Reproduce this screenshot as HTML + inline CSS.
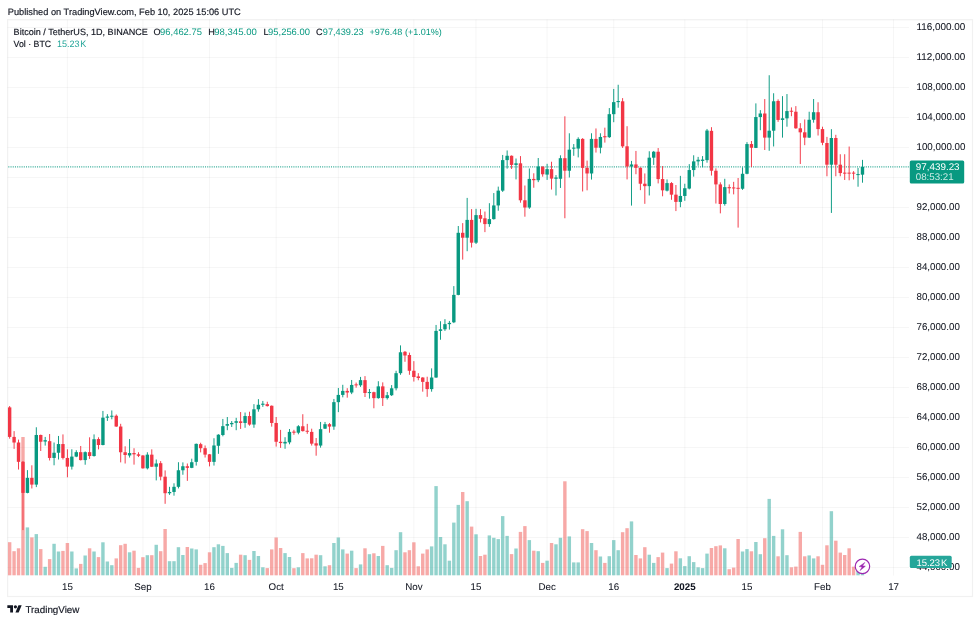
<!DOCTYPE html>
<html><head><meta charset="utf-8"><title>BTCUSDT</title>
<style>
html,body{margin:0;padding:0;background:#fff;}
body{width:980px;height:622px;overflow:hidden;position:relative;font-family:"Liberation Sans",sans-serif;}
svg{position:absolute;left:0;top:0;will-change:transform;transform:translateZ(0);}
text{font-family:"Liberation Sans",sans-serif;}
.dk text, text.dk{stroke:#131722;stroke-width:0.16px;}
.ax text{stroke:#131722;stroke-width:0.06px;}
</style></head><body>
<svg width="980" height="622" viewBox="0 0 980 622" text-rendering="geometricPrecision">
<rect x="0" y="0" width="980" height="622" fill="#ffffff"/>
<!-- frame -->
<rect x="7.6" y="19.7" width="964.9" height="576.8" fill="none" stroke="rgba(40,40,50,0.065)" stroke-width="1.2"/>
<rect x="7.5" y="27.00" width="901.5" height="1" fill="rgba(40,40,50,0.042)"/>
<rect x="7.5" y="57.00" width="901.5" height="1" fill="rgba(40,40,50,0.042)"/>
<rect x="7.5" y="87.00" width="901.5" height="1" fill="rgba(40,40,50,0.042)"/>
<rect x="7.5" y="117.00" width="901.5" height="1" fill="rgba(40,40,50,0.042)"/>
<rect x="7.5" y="147.00" width="901.5" height="1" fill="rgba(40,40,50,0.042)"/>
<rect x="7.5" y="177.00" width="901.5" height="1" fill="rgba(40,40,50,0.042)"/>
<rect x="7.5" y="207.00" width="901.5" height="1" fill="rgba(40,40,50,0.042)"/>
<rect x="7.5" y="237.00" width="901.5" height="1" fill="rgba(40,40,50,0.042)"/>
<rect x="7.5" y="267.00" width="901.5" height="1" fill="rgba(40,40,50,0.042)"/>
<rect x="7.5" y="297.00" width="901.5" height="1" fill="rgba(40,40,50,0.042)"/>
<rect x="7.5" y="327.00" width="901.5" height="1" fill="rgba(40,40,50,0.042)"/>
<rect x="7.5" y="357.00" width="901.5" height="1" fill="rgba(40,40,50,0.042)"/>
<rect x="7.5" y="387.00" width="901.5" height="1" fill="rgba(40,40,50,0.042)"/>
<rect x="7.5" y="417.00" width="901.5" height="1" fill="rgba(40,40,50,0.042)"/>
<rect x="7.5" y="447.00" width="901.5" height="1" fill="rgba(40,40,50,0.042)"/>
<rect x="7.5" y="477.00" width="901.5" height="1" fill="rgba(40,40,50,0.042)"/>
<rect x="7.5" y="507.00" width="901.5" height="1" fill="rgba(40,40,50,0.042)"/>
<rect x="7.5" y="537.00" width="901.5" height="1" fill="rgba(40,40,50,0.042)"/>
<rect x="7.5" y="567.00" width="901.5" height="1" fill="rgba(40,40,50,0.042)"/>
<rect x="66.89" y="19.5" width="1" height="556" fill="rgba(40,40,50,0.042)"/>
<rect x="142.40" y="19.5" width="1" height="556" fill="rgba(40,40,50,0.042)"/>
<rect x="209.03" y="19.5" width="1" height="556" fill="rgba(40,40,50,0.042)"/>
<rect x="275.66" y="19.5" width="1" height="556" fill="rgba(40,40,50,0.042)"/>
<rect x="337.84" y="19.5" width="1" height="556" fill="rgba(40,40,50,0.042)"/>
<rect x="413.35" y="19.5" width="1" height="556" fill="rgba(40,40,50,0.042)"/>
<rect x="475.54" y="19.5" width="1" height="556" fill="rgba(40,40,50,0.042)"/>
<rect x="546.61" y="19.5" width="1" height="556" fill="rgba(40,40,50,0.042)"/>
<rect x="613.23" y="19.5" width="1" height="556" fill="rgba(40,40,50,0.042)"/>
<rect x="684.30" y="19.5" width="1" height="556" fill="rgba(40,40,50,0.042)"/>
<rect x="746.49" y="19.5" width="1" height="556" fill="rgba(40,40,50,0.042)"/>
<rect x="822.00" y="19.5" width="1" height="556" fill="rgba(40,40,50,0.042)"/>
<rect x="893.07" y="19.5" width="1" height="556" fill="rgba(40,40,50,0.042)"/>
<rect x="7.95" y="542.20" width="3.4" height="33.10" fill="rgba(239,83,80,0.5)"/>
<rect x="12.39" y="551.20" width="3.4" height="24.10" fill="rgba(239,83,80,0.5)"/>
<rect x="16.83" y="548.30" width="3.4" height="27.00" fill="rgba(239,83,80,0.5)"/>
<rect x="21.28" y="437.00" width="3.4" height="138.30" fill="rgba(239,83,80,0.5)"/>
<rect x="25.72" y="527.40" width="3.4" height="47.90" fill="rgba(38,166,154,0.5)"/>
<rect x="30.16" y="537.40" width="3.4" height="37.90" fill="rgba(239,83,80,0.5)"/>
<rect x="34.60" y="534.10" width="3.4" height="41.20" fill="rgba(38,166,154,0.5)"/>
<rect x="39.04" y="549.10" width="3.4" height="26.20" fill="rgba(239,83,80,0.5)"/>
<rect x="43.48" y="566.80" width="3.4" height="8.50" fill="rgba(38,166,154,0.5)"/>
<rect x="47.93" y="559.10" width="3.4" height="16.20" fill="rgba(239,83,80,0.5)"/>
<rect x="52.37" y="543.80" width="3.4" height="31.50" fill="rgba(38,166,154,0.5)"/>
<rect x="56.81" y="551.50" width="3.4" height="23.80" fill="rgba(38,166,154,0.5)"/>
<rect x="61.25" y="550.90" width="3.4" height="24.40" fill="rgba(239,83,80,0.5)"/>
<rect x="65.69" y="543.00" width="3.4" height="32.30" fill="rgba(239,83,80,0.5)"/>
<rect x="70.14" y="551.50" width="3.4" height="23.80" fill="rgba(38,166,154,0.5)"/>
<rect x="74.58" y="568.40" width="3.4" height="6.90" fill="rgba(38,166,154,0.5)"/>
<rect x="79.02" y="563.90" width="3.4" height="11.40" fill="rgba(239,83,80,0.5)"/>
<rect x="83.46" y="555.50" width="3.4" height="19.80" fill="rgba(38,166,154,0.5)"/>
<rect x="87.90" y="548.30" width="3.4" height="27.00" fill="rgba(239,83,80,0.5)"/>
<rect x="92.34" y="551.50" width="3.4" height="23.80" fill="rgba(38,166,154,0.5)"/>
<rect x="96.79" y="557.10" width="3.4" height="18.20" fill="rgba(239,83,80,0.5)"/>
<rect x="101.23" y="542.30" width="3.4" height="33.00" fill="rgba(38,166,154,0.5)"/>
<rect x="105.67" y="561.50" width="3.4" height="13.80" fill="rgba(38,166,154,0.5)"/>
<rect x="110.11" y="565.20" width="3.4" height="10.10" fill="rgba(38,166,154,0.5)"/>
<rect x="114.55" y="558.40" width="3.4" height="16.90" fill="rgba(239,83,80,0.5)"/>
<rect x="118.99" y="545.20" width="3.4" height="30.10" fill="rgba(239,83,80,0.5)"/>
<rect x="123.44" y="543.80" width="3.4" height="31.50" fill="rgba(239,83,80,0.5)"/>
<rect x="127.88" y="552.30" width="3.4" height="23.00" fill="rgba(38,166,154,0.5)"/>
<rect x="132.32" y="550.70" width="3.4" height="24.60" fill="rgba(239,83,80,0.5)"/>
<rect x="136.76" y="567.90" width="3.4" height="7.40" fill="rgba(239,83,80,0.5)"/>
<rect x="141.20" y="557.20" width="3.4" height="18.10" fill="rgba(239,83,80,0.5)"/>
<rect x="145.65" y="555.20" width="3.4" height="20.10" fill="rgba(38,166,154,0.5)"/>
<rect x="150.09" y="555.20" width="3.4" height="20.10" fill="rgba(239,83,80,0.5)"/>
<rect x="154.53" y="544.80" width="3.4" height="30.50" fill="rgba(38,166,154,0.5)"/>
<rect x="158.97" y="551.20" width="3.4" height="24.10" fill="rgba(239,83,80,0.5)"/>
<rect x="163.41" y="529.00" width="3.4" height="46.30" fill="rgba(239,83,80,0.5)"/>
<rect x="167.85" y="561.20" width="3.4" height="14.10" fill="rgba(38,166,154,0.5)"/>
<rect x="172.30" y="561.20" width="3.4" height="14.10" fill="rgba(38,166,154,0.5)"/>
<rect x="176.74" y="547.20" width="3.4" height="28.10" fill="rgba(38,166,154,0.5)"/>
<rect x="181.18" y="555.00" width="3.4" height="20.30" fill="rgba(38,166,154,0.5)"/>
<rect x="185.62" y="547.00" width="3.4" height="28.30" fill="rgba(239,83,80,0.5)"/>
<rect x="190.06" y="548.50" width="3.4" height="26.80" fill="rgba(38,166,154,0.5)"/>
<rect x="194.51" y="549.40" width="3.4" height="25.90" fill="rgba(38,166,154,0.5)"/>
<rect x="198.95" y="564.80" width="3.4" height="10.50" fill="rgba(239,83,80,0.5)"/>
<rect x="203.39" y="563.10" width="3.4" height="12.20" fill="rgba(239,83,80,0.5)"/>
<rect x="207.83" y="552.30" width="3.4" height="23.00" fill="rgba(239,83,80,0.5)"/>
<rect x="212.27" y="547.20" width="3.4" height="28.10" fill="rgba(38,166,154,0.5)"/>
<rect x="216.71" y="544.30" width="3.4" height="31.00" fill="rgba(38,166,154,0.5)"/>
<rect x="221.16" y="545.90" width="3.4" height="29.40" fill="rgba(38,166,154,0.5)"/>
<rect x="225.60" y="553.10" width="3.4" height="22.20" fill="rgba(38,166,154,0.5)"/>
<rect x="230.04" y="567.90" width="3.4" height="7.40" fill="rgba(38,166,154,0.5)"/>
<rect x="234.48" y="562.90" width="3.4" height="12.40" fill="rgba(38,166,154,0.5)"/>
<rect x="238.92" y="554.70" width="3.4" height="20.60" fill="rgba(239,83,80,0.5)"/>
<rect x="243.37" y="555.20" width="3.4" height="20.10" fill="rgba(38,166,154,0.5)"/>
<rect x="247.81" y="559.90" width="3.4" height="15.40" fill="rgba(239,83,80,0.5)"/>
<rect x="252.25" y="551.00" width="3.4" height="24.30" fill="rgba(38,166,154,0.5)"/>
<rect x="256.69" y="556.00" width="3.4" height="19.30" fill="rgba(38,166,154,0.5)"/>
<rect x="261.13" y="567.30" width="3.4" height="8.00" fill="rgba(38,166,154,0.5)"/>
<rect x="265.57" y="568.10" width="3.4" height="7.20" fill="rgba(239,83,80,0.5)"/>
<rect x="270.02" y="549.40" width="3.4" height="25.90" fill="rgba(239,83,80,0.5)"/>
<rect x="274.46" y="537.50" width="3.4" height="37.80" fill="rgba(239,83,80,0.5)"/>
<rect x="278.90" y="548.00" width="3.4" height="27.30" fill="rgba(239,83,80,0.5)"/>
<rect x="283.34" y="553.10" width="3.4" height="22.20" fill="rgba(38,166,154,0.5)"/>
<rect x="287.78" y="557.00" width="3.4" height="18.30" fill="rgba(38,166,154,0.5)"/>
<rect x="292.23" y="568.20" width="3.4" height="7.10" fill="rgba(239,83,80,0.5)"/>
<rect x="296.67" y="567.30" width="3.4" height="8.00" fill="rgba(38,166,154,0.5)"/>
<rect x="301.11" y="553.10" width="3.4" height="22.20" fill="rgba(239,83,80,0.5)"/>
<rect x="305.55" y="558.40" width="3.4" height="16.90" fill="rgba(239,83,80,0.5)"/>
<rect x="309.99" y="558.30" width="3.4" height="17.00" fill="rgba(239,83,80,0.5)"/>
<rect x="314.43" y="554.70" width="3.4" height="20.60" fill="rgba(239,83,80,0.5)"/>
<rect x="318.88" y="555.20" width="3.4" height="20.10" fill="rgba(38,166,154,0.5)"/>
<rect x="323.32" y="566.30" width="3.4" height="9.00" fill="rgba(38,166,154,0.5)"/>
<rect x="327.76" y="565.20" width="3.4" height="10.10" fill="rgba(239,83,80,0.5)"/>
<rect x="332.20" y="543.00" width="3.4" height="32.30" fill="rgba(38,166,154,0.5)"/>
<rect x="336.64" y="537.50" width="3.4" height="37.80" fill="rgba(38,166,154,0.5)"/>
<rect x="341.08" y="549.40" width="3.4" height="25.90" fill="rgba(38,166,154,0.5)"/>
<rect x="345.53" y="553.60" width="3.4" height="21.70" fill="rgba(239,83,80,0.5)"/>
<rect x="349.97" y="550.70" width="3.4" height="24.60" fill="rgba(38,166,154,0.5)"/>
<rect x="354.41" y="568.10" width="3.4" height="7.20" fill="rgba(239,83,80,0.5)"/>
<rect x="358.85" y="564.40" width="3.4" height="10.90" fill="rgba(38,166,154,0.5)"/>
<rect x="363.29" y="548.30" width="3.4" height="27.00" fill="rgba(239,83,80,0.5)"/>
<rect x="367.74" y="554.20" width="3.4" height="21.10" fill="rgba(38,166,154,0.5)"/>
<rect x="372.18" y="553.30" width="3.4" height="22.00" fill="rgba(239,83,80,0.5)"/>
<rect x="376.62" y="556.00" width="3.4" height="19.30" fill="rgba(38,166,154,0.5)"/>
<rect x="381.06" y="545.90" width="3.4" height="29.40" fill="rgba(239,83,80,0.5)"/>
<rect x="385.50" y="565.20" width="3.4" height="10.10" fill="rgba(38,166,154,0.5)"/>
<rect x="389.94" y="567.90" width="3.4" height="7.40" fill="rgba(38,166,154,0.5)"/>
<rect x="394.39" y="550.20" width="3.4" height="25.10" fill="rgba(38,166,154,0.5)"/>
<rect x="398.83" y="532.20" width="3.4" height="43.10" fill="rgba(38,166,154,0.5)"/>
<rect x="403.27" y="552.30" width="3.4" height="23.00" fill="rgba(239,83,80,0.5)"/>
<rect x="407.71" y="550.20" width="3.4" height="25.10" fill="rgba(239,83,80,0.5)"/>
<rect x="412.15" y="542.30" width="3.4" height="33.00" fill="rgba(239,83,80,0.5)"/>
<rect x="416.60" y="566.30" width="3.4" height="9.00" fill="rgba(239,83,80,0.5)"/>
<rect x="421.04" y="553.60" width="3.4" height="21.70" fill="rgba(239,83,80,0.5)"/>
<rect x="425.48" y="549.40" width="3.4" height="25.90" fill="rgba(239,83,80,0.5)"/>
<rect x="429.92" y="546.40" width="3.4" height="28.90" fill="rgba(38,166,154,0.5)"/>
<rect x="434.36" y="486.10" width="3.4" height="89.20" fill="rgba(38,166,154,0.5)"/>
<rect x="438.80" y="537.00" width="3.4" height="38.30" fill="rgba(38,166,154,0.5)"/>
<rect x="443.25" y="544.30" width="3.4" height="31.00" fill="rgba(38,166,154,0.5)"/>
<rect x="447.69" y="560.70" width="3.4" height="14.60" fill="rgba(38,166,154,0.5)"/>
<rect x="452.13" y="522.60" width="3.4" height="52.70" fill="rgba(38,166,154,0.5)"/>
<rect x="456.57" y="504.90" width="3.4" height="70.40" fill="rgba(38,166,154,0.5)"/>
<rect x="461.01" y="492.00" width="3.4" height="83.30" fill="rgba(239,83,80,0.5)"/>
<rect x="465.46" y="501.20" width="3.4" height="74.10" fill="rgba(38,166,154,0.5)"/>
<rect x="469.90" y="526.60" width="3.4" height="48.70" fill="rgba(239,83,80,0.5)"/>
<rect x="474.34" y="534.30" width="3.4" height="41.00" fill="rgba(38,166,154,0.5)"/>
<rect x="478.78" y="556.00" width="3.4" height="19.30" fill="rgba(239,83,80,0.5)"/>
<rect x="483.22" y="554.70" width="3.4" height="20.60" fill="rgba(239,83,80,0.5)"/>
<rect x="487.66" y="535.40" width="3.4" height="39.90" fill="rgba(38,166,154,0.5)"/>
<rect x="492.11" y="537.80" width="3.4" height="37.50" fill="rgba(38,166,154,0.5)"/>
<rect x="496.55" y="539.10" width="3.4" height="36.20" fill="rgba(38,166,154,0.5)"/>
<rect x="500.99" y="516.10" width="3.4" height="59.20" fill="rgba(38,166,154,0.5)"/>
<rect x="505.43" y="535.90" width="3.4" height="39.40" fill="rgba(38,166,154,0.5)"/>
<rect x="509.87" y="554.10" width="3.4" height="21.20" fill="rgba(239,83,80,0.5)"/>
<rect x="514.32" y="548.50" width="3.4" height="26.80" fill="rgba(38,166,154,0.5)"/>
<rect x="518.76" y="531.90" width="3.4" height="43.40" fill="rgba(239,83,80,0.5)"/>
<rect x="523.20" y="526.10" width="3.4" height="49.20" fill="rgba(239,83,80,0.5)"/>
<rect x="527.64" y="540.10" width="3.4" height="35.20" fill="rgba(38,166,154,0.5)"/>
<rect x="532.08" y="550.70" width="3.4" height="24.60" fill="rgba(239,83,80,0.5)"/>
<rect x="536.52" y="551.20" width="3.4" height="24.10" fill="rgba(38,166,154,0.5)"/>
<rect x="540.97" y="562.90" width="3.4" height="12.40" fill="rgba(239,83,80,0.5)"/>
<rect x="545.41" y="560.70" width="3.4" height="14.60" fill="rgba(38,166,154,0.5)"/>
<rect x="549.85" y="543.00" width="3.4" height="32.30" fill="rgba(239,83,80,0.5)"/>
<rect x="554.29" y="544.30" width="3.4" height="31.00" fill="rgba(38,166,154,0.5)"/>
<rect x="558.73" y="537.80" width="3.4" height="37.50" fill="rgba(38,166,154,0.5)"/>
<rect x="563.17" y="481.30" width="3.4" height="94.00" fill="rgba(239,83,80,0.5)"/>
<rect x="567.62" y="536.40" width="3.4" height="38.90" fill="rgba(38,166,154,0.5)"/>
<rect x="572.06" y="562.40" width="3.4" height="12.90" fill="rgba(38,166,154,0.5)"/>
<rect x="576.50" y="562.40" width="3.4" height="12.90" fill="rgba(38,166,154,0.5)"/>
<rect x="580.94" y="529.20" width="3.4" height="46.10" fill="rgba(239,83,80,0.5)"/>
<rect x="585.38" y="531.10" width="3.4" height="44.20" fill="rgba(239,83,80,0.5)"/>
<rect x="589.83" y="543.00" width="3.4" height="32.30" fill="rgba(38,166,154,0.5)"/>
<rect x="594.27" y="550.20" width="3.4" height="25.10" fill="rgba(239,83,80,0.5)"/>
<rect x="598.71" y="556.50" width="3.4" height="18.80" fill="rgba(38,166,154,0.5)"/>
<rect x="603.15" y="562.90" width="3.4" height="12.40" fill="rgba(239,83,80,0.5)"/>
<rect x="607.59" y="556.20" width="3.4" height="19.10" fill="rgba(38,166,154,0.5)"/>
<rect x="612.03" y="540.10" width="3.4" height="35.20" fill="rgba(38,166,154,0.5)"/>
<rect x="616.48" y="550.20" width="3.4" height="25.10" fill="rgba(38,166,154,0.5)"/>
<rect x="620.92" y="532.20" width="3.4" height="43.10" fill="rgba(239,83,80,0.5)"/>
<rect x="625.36" y="528.20" width="3.4" height="47.10" fill="rgba(239,83,80,0.5)"/>
<rect x="629.80" y="521.40" width="3.4" height="53.90" fill="rgba(38,166,154,0.5)"/>
<rect x="634.24" y="555.00" width="3.4" height="20.30" fill="rgba(239,83,80,0.5)"/>
<rect x="638.69" y="558.40" width="3.4" height="16.90" fill="rgba(239,83,80,0.5)"/>
<rect x="643.13" y="547.20" width="3.4" height="28.10" fill="rgba(239,83,80,0.5)"/>
<rect x="647.57" y="554.70" width="3.4" height="20.60" fill="rgba(38,166,154,0.5)"/>
<rect x="652.01" y="562.90" width="3.4" height="12.40" fill="rgba(38,166,154,0.5)"/>
<rect x="656.45" y="557.10" width="3.4" height="18.20" fill="rgba(239,83,80,0.5)"/>
<rect x="660.89" y="552.60" width="3.4" height="22.70" fill="rgba(239,83,80,0.5)"/>
<rect x="665.34" y="568.10" width="3.4" height="7.20" fill="rgba(38,166,154,0.5)"/>
<rect x="669.78" y="563.60" width="3.4" height="11.70" fill="rgba(239,83,80,0.5)"/>
<rect x="674.22" y="551.30" width="3.4" height="24.00" fill="rgba(239,83,80,0.5)"/>
<rect x="678.66" y="558.30" width="3.4" height="17.00" fill="rgba(38,166,154,0.5)"/>
<rect x="683.10" y="566.10" width="3.4" height="9.20" fill="rgba(38,166,154,0.5)"/>
<rect x="687.55" y="556.20" width="3.4" height="19.10" fill="rgba(38,166,154,0.5)"/>
<rect x="691.99" y="562.10" width="3.4" height="13.20" fill="rgba(38,166,154,0.5)"/>
<rect x="696.43" y="567.30" width="3.4" height="8.00" fill="rgba(38,166,154,0.5)"/>
<rect x="700.87" y="568.10" width="3.4" height="7.20" fill="rgba(38,166,154,0.5)"/>
<rect x="705.31" y="553.60" width="3.4" height="21.70" fill="rgba(38,166,154,0.5)"/>
<rect x="709.75" y="548.00" width="3.4" height="27.30" fill="rgba(239,83,80,0.5)"/>
<rect x="714.20" y="546.20" width="3.4" height="29.10" fill="rgba(239,83,80,0.5)"/>
<rect x="718.64" y="545.40" width="3.4" height="29.90" fill="rgba(239,83,80,0.5)"/>
<rect x="723.08" y="548.30" width="3.4" height="27.00" fill="rgba(38,166,154,0.5)"/>
<rect x="727.52" y="569.20" width="3.4" height="6.10" fill="rgba(239,83,80,0.5)"/>
<rect x="731.96" y="567.60" width="3.4" height="7.70" fill="rgba(239,83,80,0.5)"/>
<rect x="736.41" y="539.00" width="3.4" height="36.30" fill="rgba(239,83,80,0.5)"/>
<rect x="740.85" y="551.50" width="3.4" height="23.80" fill="rgba(38,166,154,0.5)"/>
<rect x="745.29" y="549.10" width="3.4" height="26.20" fill="rgba(38,166,154,0.5)"/>
<rect x="749.73" y="551.30" width="3.4" height="24.00" fill="rgba(239,83,80,0.5)"/>
<rect x="754.17" y="542.00" width="3.4" height="33.30" fill="rgba(38,166,154,0.5)"/>
<rect x="758.61" y="554.20" width="3.4" height="21.10" fill="rgba(38,166,154,0.5)"/>
<rect x="763.06" y="538.20" width="3.4" height="37.10" fill="rgba(239,83,80,0.5)"/>
<rect x="767.50" y="498.90" width="3.4" height="76.40" fill="rgba(38,166,154,0.5)"/>
<rect x="771.94" y="535.90" width="3.4" height="39.40" fill="rgba(38,166,154,0.5)"/>
<rect x="776.38" y="556.30" width="3.4" height="19.00" fill="rgba(239,83,80,0.5)"/>
<rect x="780.82" y="529.30" width="3.4" height="46.00" fill="rgba(38,166,154,0.5)"/>
<rect x="785.26" y="555.20" width="3.4" height="20.10" fill="rgba(38,166,154,0.5)"/>
<rect x="789.71" y="567.30" width="3.4" height="8.00" fill="rgba(239,83,80,0.5)"/>
<rect x="794.15" y="566.60" width="3.4" height="8.70" fill="rgba(239,83,80,0.5)"/>
<rect x="798.59" y="531.90" width="3.4" height="43.40" fill="rgba(239,83,80,0.5)"/>
<rect x="803.03" y="556.30" width="3.4" height="19.00" fill="rgba(239,83,80,0.5)"/>
<rect x="807.47" y="555.40" width="3.4" height="19.90" fill="rgba(38,166,154,0.5)"/>
<rect x="811.92" y="558.40" width="3.4" height="16.90" fill="rgba(38,166,154,0.5)"/>
<rect x="816.36" y="556.30" width="3.4" height="19.00" fill="rgba(239,83,80,0.5)"/>
<rect x="820.80" y="564.80" width="3.4" height="10.50" fill="rgba(239,83,80,0.5)"/>
<rect x="825.24" y="545.30" width="3.4" height="30.00" fill="rgba(239,83,80,0.5)"/>
<rect x="829.68" y="511.20" width="3.4" height="64.10" fill="rgba(38,166,154,0.5)"/>
<rect x="834.12" y="540.70" width="3.4" height="34.60" fill="rgba(239,83,80,0.5)"/>
<rect x="838.57" y="552.60" width="3.4" height="22.70" fill="rgba(239,83,80,0.5)"/>
<rect x="843.01" y="555.00" width="3.4" height="20.30" fill="rgba(239,83,80,0.5)"/>
<rect x="847.45" y="548.30" width="3.4" height="27.00" fill="rgba(239,83,80,0.5)"/>
<rect x="851.89" y="566.70" width="3.4" height="8.60" fill="rgba(239,83,80,0.5)"/>
<rect x="856.33" y="566.80" width="3.4" height="8.50" fill="rgba(38,166,154,0.5)"/>
<rect x="860.78" y="561.50" width="3.4" height="13.80" fill="rgba(38,166,154,0.5)"/>
<line x1="8.3" y1="166.85" x2="909" y2="166.85" stroke="#089981" stroke-width="1.05" stroke-dasharray="1.05 1.16" opacity="0.8"/>
<rect x="9.18" y="406.02" width="0.95" height="32.63" fill="#f23645"/><rect x="7.95" y="407.37" width="3.4" height="29.54" fill="#f23645"/>
<rect x="13.62" y="431.12" width="0.95" height="17.76" fill="#f23645"/><rect x="12.39" y="436.91" width="3.4" height="5.60" fill="#f23645"/>
<rect x="18.06" y="439.61" width="0.95" height="29.92" fill="#f23645"/><rect x="16.83" y="442.51" width="3.4" height="19.31" fill="#f23645"/>
<rect x="22.50" y="461.00" width="0.95" height="69.10" fill="#f23645"/><rect x="21.28" y="461.80" width="3.4" height="31.10" fill="#f23645"/>
<rect x="26.94" y="470.12" width="0.95" height="23.17" fill="#089981"/><rect x="25.72" y="477.84" width="3.4" height="15.06" fill="#089981"/>
<rect x="31.38" y="465.29" width="0.95" height="23.17" fill="#f23645"/><rect x="30.16" y="477.84" width="3.4" height="6.76" fill="#f23645"/>
<rect x="35.83" y="427.26" width="0.95" height="59.85" fill="#089981"/><rect x="34.60" y="434.98" width="3.4" height="49.61" fill="#089981"/>
<rect x="40.27" y="434.59" width="0.95" height="16.41" fill="#f23645"/><rect x="39.04" y="434.98" width="3.4" height="6.76" fill="#f23645"/>
<rect x="44.71" y="436.91" width="0.95" height="8.69" fill="#089981"/><rect x="43.48" y="440.19" width="3.4" height="1.35" fill="#089981"/>
<rect x="49.15" y="434.02" width="0.95" height="26.45" fill="#f23645"/><rect x="47.93" y="441.16" width="3.4" height="16.80" fill="#f23645"/>
<rect x="53.59" y="442.51" width="0.95" height="22.78" fill="#089981"/><rect x="52.37" y="452.74" width="3.4" height="5.21" fill="#089981"/>
<rect x="58.03" y="435.95" width="0.95" height="23.55" fill="#089981"/><rect x="56.81" y="444.05" width="3.4" height="8.69" fill="#089981"/>
<rect x="62.48" y="434.40" width="0.95" height="25.10" fill="#f23645"/><rect x="61.25" y="444.05" width="3.4" height="13.90" fill="#f23645"/>
<rect x="66.92" y="449.27" width="0.95" height="27.99" fill="#f23645"/><rect x="65.69" y="457.95" width="3.4" height="8.69" fill="#f23645"/>
<rect x="71.36" y="449.27" width="0.95" height="20.27" fill="#089981"/><rect x="70.14" y="456.60" width="3.4" height="10.04" fill="#089981"/>
<rect x="75.80" y="450.23" width="0.95" height="6.95" fill="#089981"/><rect x="74.58" y="452.16" width="3.4" height="4.44" fill="#089981"/>
<rect x="80.24" y="445.98" width="0.95" height="14.48" fill="#f23645"/><rect x="79.02" y="452.16" width="3.4" height="7.92" fill="#f23645"/>
<rect x="84.69" y="451.39" width="0.95" height="13.32" fill="#089981"/><rect x="83.46" y="452.16" width="3.4" height="7.92" fill="#089981"/>
<rect x="89.13" y="437.30" width="0.95" height="21.62" fill="#f23645"/><rect x="87.90" y="452.16" width="3.4" height="3.86" fill="#f23645"/>
<rect x="93.57" y="434.40" width="0.95" height="22.20" fill="#089981"/><rect x="92.34" y="439.23" width="3.4" height="16.80" fill="#089981"/>
<rect x="98.01" y="437.30" width="0.95" height="12.06" fill="#f23645"/><rect x="96.79" y="439.07" width="3.4" height="5.95" fill="#f23645"/>
<rect x="102.45" y="410.93" width="0.95" height="34.41" fill="#089981"/><rect x="101.23" y="417.68" width="3.4" height="27.33" fill="#089981"/>
<rect x="106.89" y="414.15" width="0.95" height="6.75" fill="#089981"/><rect x="105.67" y="416.56" width="3.4" height="1.13" fill="#089981"/>
<rect x="111.34" y="410.45" width="0.95" height="8.84" fill="#089981"/><rect x="110.11" y="415.74" width="3.4" height="1.00" fill="#089981"/>
<rect x="115.78" y="414.47" width="0.95" height="12.38" fill="#f23645"/><rect x="114.55" y="415.76" width="3.4" height="10.77" fill="#f23645"/>
<rect x="120.22" y="423.79" width="0.95" height="38.59" fill="#f23645"/><rect x="118.99" y="426.53" width="3.4" height="25.72" fill="#f23645"/>
<rect x="124.66" y="446.30" width="0.95" height="17.20" fill="#f23645"/><rect x="123.44" y="452.25" width="3.4" height="2.73" fill="#f23645"/>
<rect x="129.10" y="439.07" width="0.95" height="18.49" fill="#089981"/><rect x="127.88" y="453.05" width="3.4" height="2.41" fill="#089981"/>
<rect x="133.55" y="448.23" width="0.95" height="16.40" fill="#f23645"/><rect x="132.32" y="453.05" width="3.4" height="1.29" fill="#f23645"/>
<rect x="137.99" y="452.25" width="0.95" height="4.82" fill="#f23645"/><rect x="136.76" y="454.34" width="3.4" height="1.45" fill="#f23645"/>
<rect x="142.43" y="455.14" width="0.95" height="13.50" fill="#f23645"/><rect x="141.20" y="455.47" width="3.4" height="12.86" fill="#f23645"/>
<rect x="146.87" y="452.25" width="0.95" height="17.20" fill="#089981"/><rect x="145.65" y="454.66" width="3.4" height="13.67" fill="#089981"/>
<rect x="151.31" y="449.36" width="0.95" height="17.68" fill="#f23645"/><rect x="150.09" y="454.66" width="3.4" height="12.06" fill="#f23645"/>
<rect x="155.75" y="459.49" width="0.95" height="20.90" fill="#089981"/><rect x="154.53" y="463.50" width="3.4" height="3.22" fill="#089981"/>
<rect x="160.20" y="461.09" width="0.95" height="19.29" fill="#f23645"/><rect x="158.97" y="463.18" width="3.4" height="13.50" fill="#f23645"/>
<rect x="164.64" y="470.40" width="0.95" height="33.40" fill="#f23645"/><rect x="163.41" y="476.70" width="3.4" height="16.50" fill="#f23645"/>
<rect x="169.08" y="486.82" width="0.95" height="8.04" fill="#089981"/><rect x="167.85" y="491.96" width="3.4" height="1.29" fill="#089981"/>
<rect x="173.52" y="483.28" width="0.95" height="12.38" fill="#089981"/><rect x="172.30" y="486.82" width="3.4" height="5.14" fill="#089981"/>
<rect x="177.96" y="462.22" width="0.95" height="26.21" fill="#089981"/><rect x="176.74" y="470.26" width="3.4" height="16.56" fill="#089981"/>
<rect x="182.41" y="462.38" width="0.95" height="12.38" fill="#089981"/><rect x="181.18" y="466.24" width="3.4" height="4.02" fill="#089981"/>
<rect x="186.85" y="463.50" width="0.95" height="17.36" fill="#f23645"/><rect x="185.62" y="466.24" width="3.4" height="1.61" fill="#f23645"/>
<rect x="191.29" y="458.68" width="0.95" height="9.49" fill="#089981"/><rect x="190.06" y="462.22" width="3.4" height="5.63" fill="#089981"/>
<rect x="195.73" y="443.54" width="0.95" height="22.03" fill="#089981"/><rect x="194.51" y="443.86" width="3.4" height="18.01" fill="#089981"/>
<rect x="200.17" y="442.73" width="0.95" height="9.65" fill="#f23645"/><rect x="198.95" y="444.18" width="3.4" height="4.02" fill="#f23645"/>
<rect x="204.61" y="445.47" width="0.95" height="12.06" fill="#f23645"/><rect x="203.39" y="448.20" width="3.4" height="6.43" fill="#f23645"/>
<rect x="209.06" y="453.99" width="0.95" height="12.38" fill="#f23645"/><rect x="207.83" y="454.31" width="3.4" height="7.56" fill="#f23645"/>
<rect x="213.50" y="438.23" width="0.95" height="27.33" fill="#089981"/><rect x="212.27" y="445.47" width="3.4" height="16.40" fill="#089981"/>
<rect x="217.94" y="434.21" width="0.95" height="19.61" fill="#089981"/><rect x="216.71" y="434.69" width="3.4" height="11.09" fill="#089981"/>
<rect x="222.38" y="418.94" width="0.95" height="17.36" fill="#089981"/><rect x="221.16" y="426.17" width="3.4" height="8.84" fill="#089981"/>
<rect x="226.82" y="417.01" width="0.95" height="13.18" fill="#089981"/><rect x="225.60" y="424.08" width="3.4" height="1.61" fill="#089981"/>
<rect x="231.26" y="421.03" width="0.95" height="5.95" fill="#089981"/><rect x="230.04" y="422.96" width="3.4" height="1.29" fill="#089981"/>
<rect x="235.71" y="417.81" width="0.95" height="12.38" fill="#089981"/><rect x="234.48" y="421.19" width="3.4" height="1.61" fill="#089981"/>
<rect x="240.15" y="412.03" width="0.95" height="16.88" fill="#f23645"/><rect x="238.92" y="421.35" width="3.4" height="1.61" fill="#f23645"/>
<rect x="244.59" y="412.51" width="0.95" height="15.27" fill="#089981"/><rect x="243.37" y="416.05" width="3.4" height="6.91" fill="#089981"/>
<rect x="249.03" y="411.70" width="0.95" height="13.99" fill="#f23645"/><rect x="247.81" y="416.05" width="3.4" height="8.52" fill="#f23645"/>
<rect x="253.47" y="404.15" width="0.95" height="23.63" fill="#089981"/><rect x="252.25" y="409.29" width="3.4" height="15.27" fill="#089981"/>
<rect x="257.92" y="399.16" width="0.95" height="12.54" fill="#089981"/><rect x="256.69" y="404.79" width="3.4" height="4.50" fill="#089981"/>
<rect x="262.36" y="400.93" width="0.95" height="5.95" fill="#089981"/><rect x="261.13" y="403.67" width="3.4" height="1.13" fill="#089981"/>
<rect x="266.80" y="401.74" width="0.95" height="4.82" fill="#f23645"/><rect x="265.57" y="404.15" width="3.4" height="1.93" fill="#f23645"/>
<rect x="271.24" y="405.43" width="0.95" height="21.22" fill="#f23645"/><rect x="270.02" y="405.76" width="3.4" height="17.20" fill="#f23645"/>
<rect x="275.68" y="417.01" width="0.95" height="29.58" fill="#f23645"/><rect x="274.46" y="422.96" width="3.4" height="18.81" fill="#f23645"/>
<rect x="280.12" y="429.87" width="0.95" height="18.01" fill="#f23645"/><rect x="278.90" y="441.77" width="3.4" height="1.29" fill="#f23645"/>
<rect x="284.57" y="437.20" width="0.95" height="11.58" fill="#089981"/><rect x="283.34" y="441.86" width="3.4" height="1.61" fill="#089981"/>
<rect x="289.01" y="429.00" width="0.95" height="15.27" fill="#089981"/><rect x="287.78" y="431.90" width="3.4" height="10.45" fill="#089981"/>
<rect x="293.45" y="429.81" width="0.95" height="4.98" fill="#f23645"/><rect x="292.23" y="431.58" width="3.4" height="1.13" fill="#f23645"/>
<rect x="297.89" y="425.14" width="0.95" height="9.16" fill="#089981"/><rect x="296.67" y="426.27" width="3.4" height="6.43" fill="#089981"/>
<rect x="302.33" y="414.21" width="0.95" height="17.36" fill="#f23645"/><rect x="301.11" y="426.27" width="3.4" height="4.82" fill="#f23645"/>
<rect x="306.78" y="423.86" width="0.95" height="9.97" fill="#f23645"/><rect x="305.55" y="430.75" width="3.4" height="1.00" fill="#f23645"/>
<rect x="311.22" y="428.68" width="0.95" height="16.88" fill="#f23645"/><rect x="309.99" y="431.90" width="3.4" height="11.74" fill="#f23645"/>
<rect x="315.66" y="438.01" width="0.95" height="17.68" fill="#f23645"/><rect x="314.43" y="443.31" width="3.4" height="2.25" fill="#f23645"/>
<rect x="320.10" y="421.93" width="0.95" height="25.72" fill="#089981"/><rect x="318.88" y="429.16" width="3.4" height="16.40" fill="#089981"/>
<rect x="324.54" y="421.93" width="0.95" height="7.07" fill="#089981"/><rect x="323.32" y="424.18" width="3.4" height="4.50" fill="#089981"/>
<rect x="328.98" y="423.05" width="0.95" height="9.65" fill="#f23645"/><rect x="327.76" y="424.18" width="3.4" height="2.41" fill="#f23645"/>
<rect x="333.43" y="398.94" width="0.95" height="30.87" fill="#089981"/><rect x="332.20" y="402.15" width="3.4" height="24.44" fill="#089981"/>
<rect x="337.87" y="388.01" width="0.95" height="24.12" fill="#089981"/><rect x="336.64" y="394.92" width="3.4" height="7.23" fill="#089981"/>
<rect x="342.31" y="384.79" width="0.95" height="12.54" fill="#089981"/><rect x="341.08" y="390.90" width="3.4" height="4.02" fill="#089981"/>
<rect x="346.75" y="388.17" width="0.95" height="9.49" fill="#f23645"/><rect x="345.53" y="390.90" width="3.4" height="1.61" fill="#f23645"/>
<rect x="351.19" y="379.97" width="0.95" height="14.15" fill="#089981"/><rect x="349.97" y="384.95" width="3.4" height="7.56" fill="#089981"/>
<rect x="355.64" y="382.54" width="0.95" height="5.14" fill="#f23645"/><rect x="354.41" y="384.37" width="3.4" height="1.00" fill="#f23645"/>
<rect x="360.08" y="376.91" width="0.95" height="9.97" fill="#089981"/><rect x="358.85" y="380.13" width="3.4" height="5.14" fill="#089981"/>
<rect x="364.52" y="376.11" width="0.95" height="20.90" fill="#f23645"/><rect x="363.29" y="380.13" width="3.4" height="12.86" fill="#f23645"/>
<rect x="368.96" y="388.97" width="0.95" height="9.65" fill="#089981"/><rect x="367.74" y="392.09" width="3.4" height="1.00" fill="#089981"/>
<rect x="373.40" y="391.70" width="0.95" height="16.56" fill="#f23645"/><rect x="372.18" y="392.19" width="3.4" height="5.95" fill="#f23645"/>
<rect x="377.84" y="381.22" width="0.95" height="17.52" fill="#089981"/><rect x="376.62" y="386.37" width="3.4" height="11.74" fill="#089981"/>
<rect x="382.29" y="382.35" width="0.95" height="23.63" fill="#f23645"/><rect x="381.06" y="386.37" width="3.4" height="11.74" fill="#f23645"/>
<rect x="386.73" y="391.99" width="0.95" height="7.56" fill="#089981"/><rect x="385.50" y="395.21" width="3.4" height="2.89" fill="#089981"/>
<rect x="391.17" y="385.08" width="0.95" height="10.93" fill="#089981"/><rect x="389.94" y="388.30" width="3.4" height="6.91" fill="#089981"/>
<rect x="395.61" y="370.77" width="0.95" height="19.61" fill="#089981"/><rect x="394.39" y="373.18" width="3.4" height="15.11" fill="#089981"/>
<rect x="400.05" y="345.37" width="0.95" height="29.42" fill="#089981"/><rect x="398.83" y="352.28" width="3.4" height="20.90" fill="#089981"/>
<rect x="404.50" y="351.00" width="0.95" height="10.77" fill="#f23645"/><rect x="403.27" y="351.80" width="3.4" height="3.70" fill="#f23645"/>
<rect x="408.94" y="352.60" width="0.95" height="22.19" fill="#f23645"/><rect x="407.71" y="355.02" width="3.4" height="15.76" fill="#f23645"/>
<rect x="413.38" y="361.13" width="0.95" height="20.42" fill="#f23645"/><rect x="412.15" y="370.77" width="3.4" height="6.27" fill="#f23645"/>
<rect x="417.82" y="373.18" width="0.95" height="7.07" fill="#f23645"/><rect x="416.60" y="376.40" width="3.4" height="1.61" fill="#f23645"/>
<rect x="422.26" y="377.20" width="0.95" height="14.47" fill="#f23645"/><rect x="421.04" y="377.52" width="3.4" height="4.34" fill="#f23645"/>
<rect x="426.70" y="376.72" width="0.95" height="20.10" fill="#f23645"/><rect x="425.48" y="381.86" width="3.4" height="7.23" fill="#f23645"/>
<rect x="431.15" y="368.36" width="0.95" height="23.31" fill="#089981"/><rect x="429.92" y="377.52" width="3.4" height="11.58" fill="#089981"/>
<rect x="435.59" y="324.95" width="0.95" height="52.89" fill="#089981"/><rect x="434.36" y="330.90" width="3.4" height="46.62" fill="#089981"/>
<rect x="440.03" y="321.25" width="0.95" height="18.49" fill="#089981"/><rect x="438.80" y="329.29" width="3.4" height="1.61" fill="#089981"/>
<rect x="444.47" y="319.16" width="0.95" height="11.74" fill="#089981"/><rect x="443.25" y="324.15" width="3.4" height="5.14" fill="#089981"/>
<rect x="448.91" y="320.93" width="0.95" height="8.68" fill="#089981"/><rect x="447.69" y="322.86" width="3.4" height="1.29" fill="#089981"/>
<rect x="453.35" y="286.10" width="0.95" height="37.00" fill="#089981"/><rect x="452.13" y="294.90" width="3.4" height="27.40" fill="#089981"/>
<rect x="457.80" y="226.00" width="0.95" height="69.30" fill="#089981"/><rect x="456.57" y="232.80" width="3.4" height="62.10" fill="#089981"/>
<rect x="462.24" y="223.10" width="0.95" height="36.50" fill="#f23645"/><rect x="461.01" y="232.80" width="3.4" height="4.90" fill="#f23645"/>
<rect x="466.68" y="197.90" width="0.95" height="53.30" fill="#089981"/><rect x="465.46" y="219.90" width="3.4" height="17.80" fill="#089981"/>
<rect x="471.12" y="209.10" width="0.95" height="38.40" fill="#f23645"/><rect x="469.90" y="219.90" width="3.4" height="22.80" fill="#f23645"/>
<rect x="475.56" y="208.80" width="0.95" height="35.20" fill="#089981"/><rect x="474.34" y="215.10" width="3.4" height="27.60" fill="#089981"/>
<rect x="480.01" y="209.13" width="0.95" height="13.34" fill="#f23645"/><rect x="478.78" y="215.08" width="3.4" height="3.70" fill="#f23645"/>
<rect x="484.45" y="211.54" width="0.95" height="20.58" fill="#f23645"/><rect x="483.22" y="218.30" width="3.4" height="5.79" fill="#f23645"/>
<rect x="488.89" y="203.18" width="0.95" height="23.63" fill="#089981"/><rect x="487.66" y="219.10" width="3.4" height="4.98" fill="#089981"/>
<rect x="493.33" y="193.05" width="0.95" height="26.53" fill="#089981"/><rect x="492.11" y="205.43" width="3.4" height="13.67" fill="#089981"/>
<rect x="497.77" y="186.62" width="0.95" height="24.12" fill="#089981"/><rect x="496.55" y="190.64" width="3.4" height="14.79" fill="#089981"/>
<rect x="502.21" y="154.95" width="0.95" height="36.98" fill="#089981"/><rect x="500.99" y="160.10" width="3.4" height="30.55" fill="#089981"/>
<rect x="506.66" y="150.45" width="0.95" height="18.17" fill="#089981"/><rect x="505.43" y="155.76" width="3.4" height="4.34" fill="#089981"/>
<rect x="511.10" y="155.43" width="0.95" height="13.50" fill="#f23645"/><rect x="509.87" y="155.76" width="3.4" height="9.16" fill="#f23645"/>
<rect x="515.54" y="158.49" width="0.95" height="20.90" fill="#089981"/><rect x="514.32" y="163.31" width="3.4" height="1.61" fill="#089981"/>
<rect x="519.98" y="156.08" width="0.95" height="46.62" fill="#f23645"/><rect x="518.76" y="163.31" width="3.4" height="36.98" fill="#f23645"/>
<rect x="524.42" y="185.50" width="0.95" height="31.19" fill="#f23645"/><rect x="523.20" y="200.29" width="3.4" height="7.23" fill="#f23645"/>
<rect x="528.87" y="168.46" width="0.95" height="40.35" fill="#089981"/><rect x="527.64" y="178.91" width="3.4" height="28.62" fill="#089981"/>
<rect x="533.31" y="173.28" width="0.95" height="14.47" fill="#f23645"/><rect x="532.08" y="178.91" width="3.4" height="1.29" fill="#f23645"/>
<rect x="537.75" y="158.01" width="0.95" height="24.12" fill="#089981"/><rect x="536.52" y="166.53" width="3.4" height="13.67" fill="#089981"/>
<rect x="542.19" y="166.23" width="0.95" height="10.45" fill="#f23645"/><rect x="540.97" y="166.71" width="3.4" height="7.56" fill="#f23645"/>
<rect x="546.63" y="163.82" width="0.95" height="16.08" fill="#089981"/><rect x="545.41" y="169.13" width="3.4" height="5.47" fill="#089981"/>
<rect x="551.07" y="161.73" width="0.95" height="27.81" fill="#f23645"/><rect x="549.85" y="169.13" width="3.4" height="9.49" fill="#f23645"/>
<rect x="555.52" y="175.07" width="0.95" height="20.42" fill="#089981"/><rect x="554.29" y="177.49" width="3.4" height="1.29" fill="#089981"/>
<rect x="559.96" y="155.30" width="0.95" height="32.64" fill="#089981"/><rect x="558.73" y="158.19" width="3.4" height="20.58" fill="#089981"/>
<rect x="564.40" y="116.30" width="0.95" height="101.95" fill="#f23645"/><rect x="563.17" y="158.20" width="3.4" height="12.50" fill="#f23645"/>
<rect x="568.84" y="133.27" width="0.95" height="44.21" fill="#089981"/><rect x="567.62" y="149.67" width="3.4" height="21.06" fill="#089981"/>
<rect x="573.28" y="144.05" width="0.95" height="11.74" fill="#089981"/><rect x="572.06" y="147.64" width="3.4" height="1.00" fill="#089981"/>
<rect x="577.73" y="137.29" width="0.95" height="20.10" fill="#089981"/><rect x="576.50" y="138.90" width="3.4" height="9.65" fill="#089981"/>
<rect x="582.17" y="138.10" width="0.95" height="53.38" fill="#f23645"/><rect x="580.94" y="138.90" width="3.4" height="28.94" fill="#f23645"/>
<rect x="586.61" y="160.60" width="0.95" height="29.74" fill="#f23645"/><rect x="585.38" y="167.84" width="3.4" height="5.63" fill="#f23645"/>
<rect x="591.05" y="133.27" width="0.95" height="46.30" fill="#089981"/><rect x="589.83" y="138.90" width="3.4" height="34.57" fill="#089981"/>
<rect x="595.49" y="128.45" width="0.95" height="24.12" fill="#f23645"/><rect x="594.27" y="138.90" width="3.4" height="8.84" fill="#f23645"/>
<rect x="599.93" y="133.27" width="0.95" height="20.10" fill="#089981"/><rect x="598.71" y="136.97" width="3.4" height="10.77" fill="#089981"/>
<rect x="604.38" y="127.65" width="0.95" height="14.95" fill="#f23645"/><rect x="603.15" y="136.17" width="3.4" height="1.13" fill="#f23645"/>
<rect x="608.82" y="108.06" width="0.95" height="29.90" fill="#089981"/><rect x="607.59" y="114.17" width="3.4" height="22.99" fill="#089981"/>
<rect x="613.26" y="88.93" width="0.95" height="33.28" fill="#089981"/><rect x="612.03" y="102.12" width="3.4" height="12.06" fill="#089981"/>
<rect x="617.70" y="84.75" width="0.95" height="22.99" fill="#089981"/><rect x="616.48" y="100.99" width="3.4" height="1.13" fill="#089981"/>
<rect x="622.14" y="98.10" width="0.95" height="49.84" fill="#f23645"/><rect x="620.92" y="101.31" width="3.4" height="45.02" fill="#f23645"/>
<rect x="626.59" y="126.20" width="0.95" height="53.20" fill="#f23645"/><rect x="625.36" y="146.30" width="3.4" height="20.20" fill="#f23645"/>
<rect x="631.03" y="160.90" width="0.95" height="44.69" fill="#089981"/><rect x="629.80" y="164.44" width="3.4" height="2.09" fill="#089981"/>
<rect x="635.47" y="150.93" width="0.95" height="23.31" fill="#f23645"/><rect x="634.24" y="164.44" width="3.4" height="3.38" fill="#f23645"/>
<rect x="639.91" y="167.33" width="0.95" height="22.83" fill="#f23645"/><rect x="638.69" y="167.81" width="3.4" height="15.92" fill="#f23645"/>
<rect x="644.35" y="173.44" width="0.95" height="30.39" fill="#f23645"/><rect x="643.13" y="183.73" width="3.4" height="2.41" fill="#f23645"/>
<rect x="648.79" y="151.25" width="0.95" height="44.21" fill="#089981"/><rect x="647.57" y="157.68" width="3.4" height="28.46" fill="#089981"/>
<rect x="653.24" y="150.93" width="0.95" height="13.99" fill="#089981"/><rect x="652.01" y="151.74" width="3.4" height="5.95" fill="#089981"/>
<rect x="657.68" y="148.04" width="0.95" height="35.37" fill="#f23645"/><rect x="656.45" y="151.74" width="3.4" height="27.33" fill="#f23645"/>
<rect x="662.12" y="166.05" width="0.95" height="30.23" fill="#f23645"/><rect x="660.89" y="179.07" width="3.4" height="11.25" fill="#f23645"/>
<rect x="666.56" y="179.39" width="0.95" height="12.06" fill="#089981"/><rect x="665.34" y="183.09" width="3.4" height="7.56" fill="#089981"/>
<rect x="671.00" y="182.12" width="0.95" height="17.68" fill="#f23645"/><rect x="669.78" y="183.09" width="3.4" height="11.58" fill="#f23645"/>
<rect x="675.44" y="185.02" width="0.95" height="26.05" fill="#f23645"/><rect x="674.22" y="194.66" width="3.4" height="7.23" fill="#f23645"/>
<rect x="679.89" y="175.85" width="0.95" height="31.35" fill="#089981"/><rect x="678.66" y="195.95" width="3.4" height="5.95" fill="#089981"/>
<rect x="684.33" y="183.73" width="0.95" height="17.04" fill="#089981"/><rect x="683.10" y="188.23" width="3.4" height="7.72" fill="#089981"/>
<rect x="688.77" y="164.12" width="0.95" height="25.24" fill="#089981"/><rect x="687.55" y="170.06" width="3.4" height="18.49" fill="#089981"/>
<rect x="693.21" y="155.27" width="0.95" height="21.38" fill="#089981"/><rect x="691.99" y="161.38" width="3.4" height="8.68" fill="#089981"/>
<rect x="697.65" y="156.88" width="0.95" height="8.84" fill="#089981"/><rect x="696.43" y="159.77" width="3.4" height="1.61" fill="#089981"/>
<rect x="702.10" y="156.08" width="0.95" height="11.25" fill="#089981"/><rect x="700.87" y="159.61" width="3.4" height="1.29" fill="#089981"/>
<rect x="706.54" y="128.93" width="0.95" height="33.76" fill="#089981"/><rect x="705.31" y="130.54" width="3.4" height="29.58" fill="#089981"/>
<rect x="710.98" y="127.16" width="0.95" height="48.39" fill="#f23645"/><rect x="709.75" y="130.86" width="3.4" height="39.87" fill="#f23645"/>
<rect x="715.42" y="168.32" width="0.95" height="35.21" fill="#f23645"/><rect x="714.20" y="170.73" width="3.4" height="13.67" fill="#f23645"/>
<rect x="719.86" y="182.31" width="0.95" height="31.03" fill="#f23645"/><rect x="718.64" y="184.40" width="3.4" height="19.61" fill="#f23645"/>
<rect x="724.30" y="178.77" width="0.95" height="26.85" fill="#089981"/><rect x="723.08" y="187.13" width="3.4" height="16.88" fill="#089981"/>
<rect x="728.75" y="184.40" width="0.95" height="9.16" fill="#f23645"/><rect x="727.52" y="187.13" width="3.4" height="1.13" fill="#f23645"/>
<rect x="733.19" y="181.83" width="0.95" height="12.54" fill="#f23645"/><rect x="731.96" y="187.44" width="3.4" height="1.00" fill="#f23645"/>
<rect x="737.63" y="178.00" width="0.95" height="49.60" fill="#f23645"/><rect x="736.41" y="187.80" width="3.4" height="1.00" fill="#f23645"/>
<rect x="742.07" y="167.36" width="0.95" height="22.51" fill="#089981"/><rect x="740.85" y="173.79" width="3.4" height="14.95" fill="#089981"/>
<rect x="746.51" y="142.12" width="0.95" height="32.15" fill="#089981"/><rect x="745.29" y="144.05" width="3.4" height="29.74" fill="#089981"/>
<rect x="750.96" y="140.99" width="0.95" height="26.05" fill="#f23645"/><rect x="749.73" y="144.05" width="3.4" height="3.70" fill="#f23645"/>
<rect x="755.40" y="103.37" width="0.95" height="44.69" fill="#089981"/><rect x="754.17" y="117.04" width="3.4" height="30.87" fill="#089981"/>
<rect x="759.84" y="110.12" width="0.95" height="20.10" fill="#089981"/><rect x="758.61" y="113.50" width="3.4" height="3.54" fill="#089981"/>
<rect x="764.28" y="99.03" width="0.95" height="50.96" fill="#f23645"/><rect x="763.06" y="113.50" width="3.4" height="24.12" fill="#f23645"/>
<rect x="768.72" y="75.23" width="0.95" height="75.56" fill="#089981"/><rect x="767.50" y="130.70" width="3.4" height="6.91" fill="#089981"/>
<rect x="773.16" y="93.24" width="0.95" height="53.22" fill="#089981"/><rect x="771.94" y="101.28" width="3.4" height="29.42" fill="#089981"/>
<rect x="777.61" y="99.35" width="0.95" height="22.51" fill="#f23645"/><rect x="776.38" y="100.96" width="3.4" height="18.97" fill="#f23645"/>
<rect x="782.05" y="96.14" width="0.95" height="41.48" fill="#089981"/><rect x="780.82" y="118.32" width="3.4" height="1.61" fill="#089981"/>
<rect x="786.49" y="94.05" width="0.95" height="32.64" fill="#089981"/><rect x="785.26" y="111.09" width="3.4" height="7.23" fill="#089981"/>
<rect x="790.93" y="107.39" width="0.95" height="8.84" fill="#f23645"/><rect x="789.71" y="110.75" width="3.4" height="1.00" fill="#f23645"/>
<rect x="795.37" y="106.10" width="0.95" height="22.67" fill="#f23645"/><rect x="794.15" y="111.73" width="3.4" height="16.56" fill="#f23645"/>
<rect x="799.82" y="123.14" width="0.95" height="40.84" fill="#f23645"/><rect x="798.59" y="128.29" width="3.4" height="4.02" fill="#f23645"/>
<rect x="804.26" y="119.45" width="0.95" height="25.72" fill="#f23645"/><rect x="803.03" y="132.31" width="3.4" height="5.31" fill="#f23645"/>
<rect x="808.70" y="111.73" width="0.95" height="26.21" fill="#089981"/><rect x="807.47" y="119.77" width="3.4" height="17.85" fill="#089981"/>
<rect x="813.14" y="99.03" width="0.95" height="23.63" fill="#089981"/><rect x="811.92" y="112.21" width="3.4" height="7.56" fill="#089981"/>
<rect x="817.58" y="102.24" width="0.95" height="33.28" fill="#f23645"/><rect x="816.36" y="112.21" width="3.4" height="16.88" fill="#f23645"/>
<rect x="822.02" y="126.68" width="0.95" height="18.49" fill="#f23645"/><rect x="820.80" y="129.09" width="3.4" height="13.67" fill="#f23645"/>
<rect x="826.47" y="136.88" width="0.95" height="39.39" fill="#f23645"/><rect x="825.24" y="142.99" width="3.4" height="21.70" fill="#f23645"/>
<rect x="830.91" y="129.16" width="0.95" height="83.76" fill="#089981"/><rect x="829.68" y="138.01" width="3.4" height="26.69" fill="#089981"/>
<rect x="835.35" y="134.79" width="0.95" height="41.48" fill="#f23645"/><rect x="834.12" y="138.01" width="3.4" height="26.69" fill="#f23645"/>
<rect x="839.79" y="154.24" width="0.95" height="22.03" fill="#f23645"/><rect x="838.57" y="164.69" width="3.4" height="8.36" fill="#f23645"/>
<rect x="844.23" y="154.24" width="0.95" height="25.72" fill="#f23645"/><rect x="843.01" y="172.64" width="3.4" height="1.00" fill="#f23645"/>
<rect x="848.68" y="146.53" width="0.95" height="33.76" fill="#f23645"/><rect x="847.45" y="172.64" width="3.4" height="1.00" fill="#f23645"/>
<rect x="853.12" y="171.13" width="0.95" height="8.36" fill="#f23645"/><rect x="851.89" y="172.64" width="3.4" height="1.00" fill="#f23645"/>
<rect x="857.56" y="167.91" width="0.95" height="18.81" fill="#089981"/><rect x="856.33" y="174.08" width="3.4" height="1.00" fill="#089981"/>
<rect x="862.00" y="159.87" width="0.95" height="22.83" fill="#089981"/><rect x="860.78" y="166.95" width="3.4" height="7.72" fill="#089981"/>
<!-- header -->
<text class="dk" x="7.8" y="14.8" font-size="9.25" fill="#131722" textLength="233" lengthAdjust="spacingAndGlyphs">Published on TradingView.com, Feb 10, 2025 15:06 UTC</text>
<g class="dk" font-size="9.1" fill="#131722">
<text x="13.6" y="34.8" textLength="134.3" lengthAdjust="spacingAndGlyphs">Bitcoin / TetherUS, 1D, BINANCE</text>
<text x="153.5" y="34.8">O</text>
<text x="208.2" y="34.8">H</text>
<text x="263.5" y="34.8">L</text>
<text x="316" y="34.8">C</text>
<text x="13.6" y="47.3" textLength="37.6" lengthAdjust="spacingAndGlyphs">Vol · BTC</text>
</g>
<g font-size="9.4" fill="#089981">
<text x="160.1" y="34.8" textLength="41.8" lengthAdjust="spacingAndGlyphs">96,462.75</text>
<text x="214.2" y="34.8" textLength="42.6" lengthAdjust="spacingAndGlyphs">98,345.00</text>
<text x="268.1" y="34.8" textLength="41.8" lengthAdjust="spacingAndGlyphs">95,256.00</text>
<text x="322.8" y="34.8" textLength="40.9" lengthAdjust="spacingAndGlyphs">97,439.23</text>
<text x="369.5" y="34.8" font-size="9.1" textLength="72.3" lengthAdjust="spacingAndGlyphs">+976.48 (+1.01%)</text>
</g>
<text x="57" y="47.3" font-size="9.3" fill="#26a69a" textLength="29.4" lengthAdjust="spacingAndGlyphs">15.23 K</text>
<!-- price axis -->
<g class="ax" font-size="9.9" fill="#131722">
<text x="916.5" y="30.00" textLength="48.9" lengthAdjust="spacingAndGlyphs">116,000.00</text>
<text x="916.5" y="60.00" textLength="48.9" lengthAdjust="spacingAndGlyphs">112,000.00</text>
<text x="916.5" y="90.00" textLength="48.9" lengthAdjust="spacingAndGlyphs">108,000.00</text>
<text x="916.5" y="120.00" textLength="48.9" lengthAdjust="spacingAndGlyphs">104,000.00</text>
<text x="916.5" y="150.00" textLength="48.9" lengthAdjust="spacingAndGlyphs">100,000.00</text>
<text x="916.5" y="210.00" textLength="43.3" lengthAdjust="spacingAndGlyphs">92,000.00</text>
<text x="916.5" y="240.00" textLength="43.3" lengthAdjust="spacingAndGlyphs">88,000.00</text>
<text x="916.5" y="270.00" textLength="43.3" lengthAdjust="spacingAndGlyphs">84,000.00</text>
<text x="916.5" y="300.00" textLength="43.3" lengthAdjust="spacingAndGlyphs">80,000.00</text>
<text x="916.5" y="330.00" textLength="43.3" lengthAdjust="spacingAndGlyphs">76,000.00</text>
<text x="916.5" y="360.00" textLength="43.3" lengthAdjust="spacingAndGlyphs">72,000.00</text>
<text x="916.5" y="390.00" textLength="43.3" lengthAdjust="spacingAndGlyphs">68,000.00</text>
<text x="916.5" y="420.00" textLength="43.3" lengthAdjust="spacingAndGlyphs">64,000.00</text>
<text x="916.5" y="450.00" textLength="43.3" lengthAdjust="spacingAndGlyphs">60,000.00</text>
<text x="916.5" y="480.00" textLength="43.3" lengthAdjust="spacingAndGlyphs">56,000.00</text>
<text x="916.5" y="510.00" textLength="43.3" lengthAdjust="spacingAndGlyphs">52,000.00</text>
<text x="916.5" y="540.00" textLength="43.3" lengthAdjust="spacingAndGlyphs">48,000.00</text>
<text x="916.5" y="570.00" textLength="43.3" lengthAdjust="spacingAndGlyphs">44,000.00</text>
</g>
<!-- time axis -->
<g class="ax" font-size="9.75" fill="#131722">
<text x="67.39" y="590.3" text-anchor="middle">15</text>
<text x="142.90" y="590.3" text-anchor="middle">Sep</text>
<text x="209.53" y="590.3" text-anchor="middle">16</text>
<text x="276.16" y="590.3" text-anchor="middle">Oct</text>
<text x="338.34" y="590.3" text-anchor="middle">15</text>
<text x="413.85" y="590.3" text-anchor="middle">Nov</text>
<text x="476.04" y="590.3" text-anchor="middle">15</text>
<text x="547.11" y="590.3" text-anchor="middle">Dec</text>
<text x="613.73" y="590.3" text-anchor="middle">16</text>
<text x="684.80" y="590.3" text-anchor="middle" font-weight="700">2025</text>
<text x="746.99" y="590.3" text-anchor="middle">15</text>
<text x="822.50" y="590.3" text-anchor="middle">Feb</text>
<text x="893.57" y="590.3" text-anchor="middle">17</text>
</g>
<!-- volume label -->
<rect x="909.8" y="555.8" width="41.9" height="12.3" rx="1.6" fill="#26a69a"/>
<text x="916.4" y="565.5" font-size="9.6" fill="#ffffff" textLength="30.9" lengthAdjust="spacingAndGlyphs">15.23 K</text>
<!-- price label -->
<rect x="909.8" y="160.4" width="54.4" height="23.1" rx="1.5" fill="#089981"/>
<text x="915.8" y="170.4" font-size="9.75" fill="#ffffff" textLength="43.8" lengthAdjust="spacingAndGlyphs">97,439.23</text>
<text x="915.8" y="180.2" font-size="9.75" fill="#ffffff" fill-opacity="0.8" textLength="37.8" lengthAdjust="spacingAndGlyphs">08:53:21</text>
<!-- lightning icon -->
<circle cx="862.45" cy="566.35" r="7.25" fill="#ffffff" stroke="#9c27b0" stroke-width="1.15"/>
<path d="M864.9 562.4 L859.1 566.6 L862.1 567.0 L860.0 570.6 L865.4 566.2 L862.6 565.8 Z" fill="#9c27b0" stroke="#9c27b0" stroke-width="0.45" stroke-linejoin="round"/>
<!-- logo -->
<g transform="translate(7.35,603.58) scale(0.404)" fill="#131722">
<path d="M14 22H7V11H0V4h14v18zM28 22h-8l7.5-18h8L28 22z"/><circle cx="20" cy="8" r="4"/>
</g>
<text class="dk" x="25.4" y="612.8" font-size="9.75" fill="#131722" textLength="54" lengthAdjust="spacingAndGlyphs">TradingView</text>
</svg>
</body></html>
